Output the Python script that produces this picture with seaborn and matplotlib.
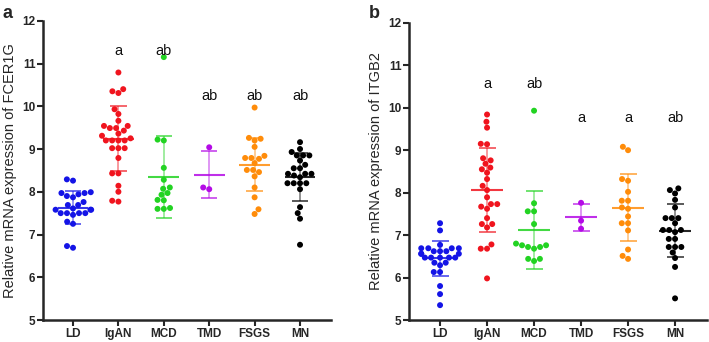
import numpy as np
import pandas as pd
import matplotlib
matplotlib.use("Agg")
import matplotlib.pyplot as plt
import seaborn as sns

groups = ["LD", "IgAN", "MCD", "TMD", "FSGS", "MN"]
colors = ["#1414E6", "#F0141E", "#22D322", "#B40AE6", "#FF8C0A", "#000000"]

# Panel a: FCER1G
fcer1g_LD = [8.29, 8.26, 7.99, 7.97, 7.97, 7.94, 7.90, 7.87, 7.76, 7.69, 7.69, 7.61,
             7.58, 7.58, 7.58, 7.50, 7.50, 7.50, 7.50, 7.46, 7.30, 7.25, 6.73, 6.69]
fcer1g_IgAN = [10.79, 10.40, 10.35, 10.31, 9.93, 9.82, 9.66, 9.54, 9.54, 9.49, 9.49,
               9.43, 9.36, 9.31, 9.25, 9.20, 9.20, 9.20, 9.20, 9.02, 9.02, 9.02, 8.79,
               8.43, 8.43, 8.14, 8.00, 7.79, 7.77]
fcer1g_MCD = [11.15, 9.22, 9.20, 8.56, 8.28, 8.10, 8.07, 7.97, 7.93, 7.81, 7.80,
              7.62, 7.60, 7.60]
fcer1g_TMD = [9.04, 8.10, 8.06]
fcer1g_FSGS = [9.97, 9.26, 9.24, 9.20, 9.05, 8.84, 8.79, 8.79, 8.77, 8.67, 8.51, 8.51,
               8.46, 8.36, 8.10, 7.87, 7.59, 7.48]
fcer1g_MN = [9.16, 9.00, 8.93, 8.85, 8.85, 8.85, 8.73, 8.63, 8.55, 8.55, 8.42, 8.42,
             8.42, 8.38, 8.34, 8.20, 8.20, 8.20, 8.20, 8.06, 7.64, 7.50, 7.37, 6.76]

# Panel b: ITGB2
itgb2_LD = [7.28, 7.11, 6.77, 6.69, 6.69, 6.69, 6.69, 6.62, 6.62, 6.62, 6.56, 6.56,
            6.56, 6.47, 6.47, 6.47, 6.47, 6.47, 6.35, 6.35, 6.29, 6.13, 6.13, 5.80,
            5.61, 5.35]
itgb2_IgAN = [9.84, 9.67, 9.53, 9.15, 9.14, 8.81, 8.76, 8.68, 8.59, 8.55, 8.47, 8.32,
              8.16, 8.06, 7.89, 7.73, 7.73, 7.67, 7.62, 7.40, 7.26, 7.26, 7.18, 6.78,
              6.68, 6.68, 5.98]
itgb2_MCD = [9.93, 7.75, 7.56, 7.56, 7.26, 6.80, 6.76, 6.76, 6.72, 6.72, 6.68, 6.44,
             6.44, 6.39]
itgb2_TMD = [7.76, 7.34, 7.15]
itgb2_FSGS = [9.08, 9.00, 8.32, 8.28, 8.02, 7.81, 7.81, 7.65, 7.62, 7.44, 7.28, 7.28,
              7.11, 6.66, 6.51, 6.44]
itgb2_MN = [8.10, 8.06, 7.98, 7.83, 7.65, 7.40, 7.40, 7.40, 7.28, 7.12, 7.12, 7.12,
            7.07, 6.91, 6.91, 6.72, 6.72, 6.72, 6.59, 6.46, 6.25, 5.51]

letters_a = ["", "a", "ab", "ab", "ab", "ab"]
letters_a_y = [None, 11.3, 11.3, 10.25, 10.25, 10.25]
letters_b = ["", "a", "ab", "a", "a", "ab"]
letters_b_y = [None, 10.55, 10.55, 9.75, 9.75, 9.75]

panels = [
    ("a", "Relative mRNA expression of FCER1G",
     [fcer1g_LD, fcer1g_IgAN, fcer1g_MCD, fcer1g_TMD, fcer1g_FSGS, fcer1g_MN],
     letters_a, letters_a_y),
    ("b", "Relative mRNA expression of ITGB2",
     [itgb2_LD, itgb2_IgAN, itgb2_MCD, itgb2_TMD, itgb2_FSGS, itgb2_MN],
     letters_b, letters_b_y),
]

sns.set_style("ticks")
plt.rcParams['font.family'] = ['Liberation Sans', 'DejaVu Sans']

fig = plt.figure(figsize=(7.09, 3.42), dpi=100)
axes_pos = [[0.0607, 0.0643, 0.406, 0.8750], [0.5769, 0.0643, 0.4203, 0.8690]]
label_x = [0.004, 0.520]

for k, (tag, ylabel, data, letters, letters_y) in enumerate(panels):
    ax = fig.add_axes(axes_pos[k])
    df = pd.DataFrame({
        "group": np.concatenate([[g] * len(v) for g, v in zip(groups, data)]),
        "value": np.concatenate(data),
    })
    sns.swarmplot(data=df, x="group", y="value", hue="group", order=groups,
                  hue_order=groups, palette=colors, size=4.3, legend=False,
                  ax=ax, zorder=2, linewidth=0)
    for i, vals in enumerate(data):
        m = np.mean(vals)
        s = np.std(vals, ddof=1)
        c = colors[i]
        ax.hlines(m, i - 0.34, i + 0.34, color=c, lw=1.5, alpha=0.85, zorder=3)
        ax.hlines([m - s, m + s], i - 0.18, i + 0.18, color=c, lw=1.3, alpha=0.7, zorder=3)
        ax.vlines(i, m - s, m + s, color=c, lw=1.2, alpha=0.5, zorder=3)
        if letters[i]:
            ax.text(i, letters_y[i], letters[i], ha="center", va="center",
                    fontsize=10.5, color="#111111")
    ax.set_ylim(5, 12)
    ax.set_xlim(-0.66, 5.68)
    ax.set_yticks(range(5, 13))
    ax.set_xlabel("")
    ax.set_ylabel(ylabel, fontsize=10.5, labelpad=4)
    sns.despine(ax=ax)
    for sp in ["left", "bottom"]:
        ax.spines[sp].set_linewidth(1.8)
    ax.tick_params(axis="both", width=1.5, length=4, labelsize=8.5, pad=1.5)
    for lab in ax.get_xticklabels() + ax.get_yticklabels():
        lab.set_fontweight("bold")
    fig.text(label_x[k], 0.985, tag, fontsize=13, fontweight="bold", va="top", ha="left")

fig.savefig("out.png", dpi=100)
